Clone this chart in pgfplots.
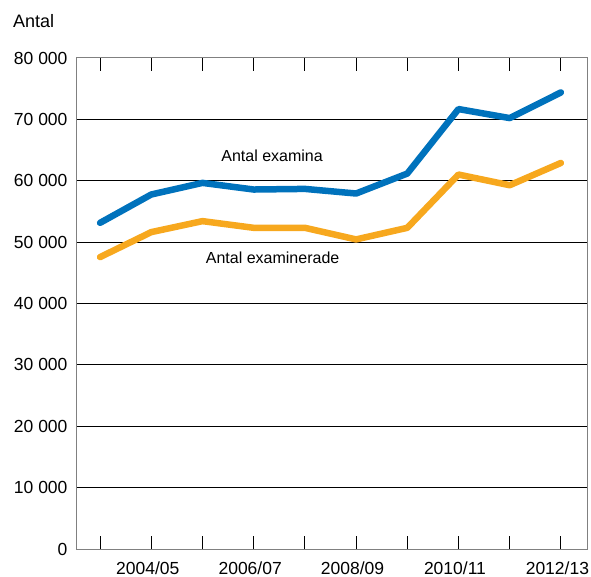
\documentclass[border=0pt]{standalone}
\usepackage{fontspec}
\setmainfont{Liberation Sans}
\usepackage{pgfplots}
\pgfplotsset{compat=1.18}
\definecolor{eblue}{RGB}{0,114,188}
\definecolor{eorange}{RGB}{247,168,30}
\begin{document}
\begin{tikzpicture}[x=1bp,y=1bp]
\path[use as bounding box] (0,0) rectangle (591,577);
\begin{axis}[
  at={(76bp,28bp)}, anchor=south west,
  scale only axis, width=511bp, height=491bp,
  xmin=-0.47, xmax=9.51, ymin=0, ymax=80000,
  scaled y ticks=false,
  xtick={0,...,9},
  xticklabels={,2004/05,,2006/07,,2008/09,,2010/11,,2012/13},
  ytick={0,10000,20000,30000,40000,50000,60000,70000,80000},
  yticklabels={0,10 000,20 000,30 000,40 000,50 000,60 000,70 000,80 000},
  tick align=inside,
  major tick length=13bp,
  ymajorgrids,
  grid style={black, line width=1bp},
  axis line style={gray, line width=1bp},
  xtick style={black, line width=1bp},
  ytick style={draw=none},
  tick label style={font=\fontsize{17.5bp}{21bp}\selectfont},
  xticklabel style={yshift=-9bp, xshift=-3.5bp},
  yticklabel style={xshift=-5bp},
  clip=false,
]
\addplot[eblue, line width=6.5bp, line cap=round, line join=round] coordinates {
(0,53140) (1,57760) (2,59650) (3,58570) (4,58670) (5,57920) (6,61170) (7,71680) (8,70210) (9,74390)};
\addplot[eorange, line width=6.5bp, line cap=round, line join=round] coordinates {
(0,47560) (1,51630) (2,53420) (3,52330) (4,52330) (5,50440) (6,52330) (7,61010) (8,59270) (9,62900)};
\node[font=\fontsize{16bp}{19bp}\selectfont] at (axis cs:3.36,64000) {Antal examina};
\node[font=\fontsize{16bp}{19bp}\selectfont] at (axis cs:3.37,47450) {Antal examinerade};
\end{axis}
\node[anchor=base west, font=\fontsize{18bp}{21bp}\selectfont, inner sep=0pt] at (13,549) {Antal};
\end{tikzpicture}
\end{document}
